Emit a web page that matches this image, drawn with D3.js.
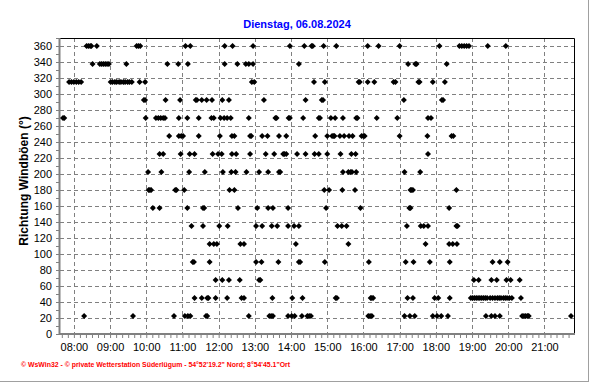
<!DOCTYPE html>
<html>
<head>
<meta charset="utf-8">
<script src="https://cdn.jsdelivr.net/npm/d3@7"></script>
<style>
  body { margin: 0; background: #fff; }
  svg { display: block; font-family: Arial, "Liberation Sans", sans-serif; }
</style>
</head>
<body>
<div id="chart"></div>
<script>
// gust directions (16 compass sectors) and the times they were logged
const directions = [360, 337.5, 315, 292.5, 270, 247.5, 225, 202.5, 180, 157.5, 135, 112.5, 90, 67.5, 45, 22.5];

const dir360 = ["08:21","08:24","08:27","08:29","08:38","09:44","09:47","09:50","11:05","11:13","12:10","12:23","12:57","13:58","14:22","14:34","14:36","14:54","15:15","16:07","16:25","17:00","18:06","18:39","18:43","18:47","18:51","18:55","19:26","19:56"];
const dir337 = ["08:31","08:43","08:46","08:49","08:52","08:55","08:58","09:27","10:35","10:53","11:09","12:10","12:31","12:45","12:50","12:57","14:13","17:14","17:26","17:28","18:18"];
const dir315 = ["07:52","07:56","08:00","08:04","08:08","08:12","09:01","09:04","09:08","09:11","09:15","09:18","09:22","09:25","09:29","09:32","09:36","09:49","09:58","12:55","12:59","14:38","14:56","15:52","15:54","16:07","16:18","16:50","16:53","17:31","17:33","17:55","18:15"];
const dir292 = ["09:56","09:58","10:32","10:56","11:22","11:24","11:32","11:40","11:49","12:06","12:17","13:15","14:24","14:51","14:53","17:07","18:10","18:12"];
const dir270 = ["07:42","07:44","09:59","10:16","10:20","10:24","10:28","10:31","10:54","11:08","11:27","11:48","11:52","12:03","12:09","12:14","12:20","12:50","13:34","13:36","13:56","13:58","14:20","14:46","14:48","15:06","15:13","15:26","15:48","15:50","16:22","16:56","17:47","17:52"];
const dir247 = ["10:38","10:54","10:58","11:01","11:27","12:02","12:22","12:26","12:52","12:54","13:12","13:21","13:40","13:52","14:40","15:00","15:08","15:10","15:12","15:21","15:28","15:36","15:42","15:57","16:00","16:02","17:00","17:46","18:26","18:29"];
const dir225 = ["10:22","10:28","10:57","11:12","11:20","11:50","11:59","12:05","12:22","12:29","12:52","13:18","13:32","13:47","13:49","13:52","14:10","14:24","14:39","14:46","15:00","15:22","15:40","15:47","17:47"];
const dir202 = ["10:03","10:25","11:11","11:37","12:07","12:21","12:28","12:46","13:07","13:22","13:40","13:42","15:26","15:35","15:39","15:41","15:48","17:08","17:34"];
const dir180 = ["10:04","10:06","10:08","10:48","10:50","11:03","12:18","12:26","14:55","15:03","15:25","15:46","17:18","17:20","17:22","18:34"];
const dir157 = ["10:11","10:22","11:08","11:34","11:36","12:32","13:04","13:22","13:30","13:55","14:58","15:55","17:16","17:18","18:22"];
const dir135 = ["11:15","11:34","12:01","12:15","13:02","13:12","13:28","13:37","13:55","14:05","14:13","15:17","15:24","15:32","17:12","17:35","17:40","17:47","18:34","18:36"];
const dir112 = ["11:45","11:52","11:57","12:36","12:42","14:08","15:35","17:43","18:22","18:28","18:35"];
const dir90  = ["11:17","11:19","11:45","13:02","13:11","13:39","14:13","14:15","14:56","16:09","17:10","17:23","17:50","18:23","19:34","19:46","19:59"];
const dir67  = ["11:55","12:06","12:17","12:35","13:07","13:09","19:03","19:11","19:32","19:41","19:57","20:04","20:19"];
const dir45  = ["11:20","11:32","11:41","11:43","11:55","12:14","12:38","12:42","13:29","14:02","14:19","15:14","15:16","16:12","16:14","16:16","17:13","17:22","17:58","18:04","18:23","18:58","19:01","19:04","19:07","19:10","19:13","19:16","19:19","19:22","19:25","19:30","19:34","19:38","19:42","19:45","19:48","19:52","19:55","19:58","20:02","20:06","20:21"];
const dir22  = ["08:17","09:38","10:46","11:04","11:09","11:13","11:39","11:41","12:50","13:24","13:27","13:30","13:55","14:01","14:06","14:18","14:27","14:30","14:33","16:08","16:11","16:14","17:08","17:17","17:25","17:55","18:02","18:09","18:20","19:23","19:32","19:38","19:46","20:23","20:26","20:29","20:32","20:34","21:44"];

const hourLabels = ["08:00","09:00","10:00","11:00","12:00","13:00","14:00","15:00","16:00","17:00","18:00","19:00","20:00","21:00"];
const yTicks = d3.range(0, 361, 20);
const timeStart = "07:37";
const timeEnd = "21:49";

const title = "Dienstag, 06.08.2024";
const yTitle = "Richtung Windböen  (°)";
const footer = "© WsWin32  -  © private Wetterstation Süderlügum  -  54°52'19.2\" Nord; 8°54'45.1\"Ort";

const width = 592, height = 384;
const toMin = (s) => { const p = s.split(":"); return +p[0] * 60 + +p[1]; };

const series = [dir360, dir337, dir315, dir292, dir270, dir247, dir225, dir202,
                dir180, dir157, dir135, dir112, dir90, dir67, dir45, dir22];
const points = [];
series.forEach((times, i) => {
  times.forEach((t) => points.push({ t: toMin(t), dir: directions[i] }));
});

const svg = d3.select("#chart").append("svg")
  .attr("width", width)
  .attr("height", height);

const pLeft = 60, pRight = 574, pTop = 38, pBottom = 334;

const x = d3.scaleLinear().domain([toMin(timeStart), toMin(timeEnd)]).range([pLeft, pRight]);
const y = d3.scaleLinear().domain([0, 370]).range([pBottom, pTop]);

// outer frame shadow
svg.append("line").attr("x1", 0).attr("x2", 589).attr("y1", 381.5).attr("y2", 381.5)
  .attr("stroke", "#a0a0a0");
svg.append("line").attr("x1", 588.5).attr("x2", 588.5).attr("y1", 0).attr("y2", 382)
  .attr("stroke", "#a0a0a0");

// grid
const grid = svg.append("g").attr("stroke", "#808080").attr("stroke-dasharray", "4,3");
grid.selectAll(".hg").data(yTicks.filter((d) => d > 0)).enter().append("line")
  .attr("x1", pLeft).attr("x2", pRight)
  .attr("y1", (d) => Math.round(y(d)) + 0.5).attr("y2", (d) => Math.round(y(d)) + 0.5);
grid.selectAll(".vg").data(hourLabels).enter().append("line")
  .attr("x1", (d) => Math.round(x(toMin(d))) + 0.5).attr("x2", (d) => Math.round(x(toMin(d))) + 0.5)
  .attr("y1", pTop).attr("y2", pBottom);

// top / right border
svg.append("path")
  .attr("d", `M${pLeft},${pTop + 0.5}H${pRight + 0.5}V${pBottom}`)
  .attr("fill", "none").attr("stroke", "#000");

// x axis: minor ticks every 10 minutes, labels every hour
const minorX = d3.range(Math.ceil(toMin(timeStart) / 10) * 10, toMin(timeEnd) + 1, 10);
const xMinor = svg.append("g").attr("transform", `translate(0,${pBottom})`)
  .call(d3.axisBottom(x).tickValues(minorX).tickSize(4).tickFormat(""));
xMinor.select(".domain").remove();
xMinor.selectAll("line").attr("stroke", "#808080");

const xLab = svg.append("g").attr("transform", `translate(0,${pBottom})`)
  .call(d3.axisBottom(x).tickValues(hourLabels.map(toMin)).tickSize(0).tickPadding(9)
    .tickFormat((d, i) => hourLabels[i]));
xLab.select(".domain").remove();
xLab.selectAll("text").attr("font-size", 11).attr("font-family", "Arial, 'Liberation Sans', sans-serif").attr("fill", "#000");

// y axis: minor ticks every 10, labels every 20
const yMinor = svg.append("g").attr("transform", `translate(${pLeft},0)`)
  .call(d3.axisLeft(y).tickValues(d3.range(0, 371, 10)).tickSize(4).tickFormat(""));
yMinor.select(".domain").remove();
yMinor.selectAll("line").attr("stroke", "#808080");

const yLab = svg.append("g").attr("transform", `translate(${pLeft},0)`)
  .call(d3.axisLeft(y).tickValues(yTicks).tickSize(0).tickPadding(8));
yLab.select(".domain").remove();
yLab.selectAll("text").attr("font-size", 11).attr("font-family", "Arial, 'Liberation Sans', sans-serif").attr("fill", "#000");

// thick gray axis lines
svg.append("path")
  .attr("d", `M${pLeft - 0.5},${pTop}V${pBottom}H${pRight + 1}`)
  .attr("fill", "none").attr("stroke", "#808080").attr("stroke-width", 2);

// points
const diamond = {
  draw(ctx, size) {
    const r = Math.sqrt(size / 2);
    ctx.moveTo(0, -r); ctx.lineTo(r, 0); ctx.lineTo(0, r); ctx.lineTo(-r, 0); ctx.closePath();
  }
};
svg.append("g").selectAll("path").data(points).enter().append("path")
  .attr("transform", (d) => `translate(${x(d.t)},${y(d.dir)})`)
  .attr("d", d3.symbol().type(diamond).size(18))
  .attr("fill", "#000");

// title
svg.append("text")
  .attr("x", 297).attr("y", 28)
  .attr("text-anchor", "middle")
  .attr("font-size", 11).attr("font-weight", "bold")
  .attr("fill", "#0000ff")
  .text(title);

svg.append("text")
  .attr("transform", `translate(28,${181}) rotate(-90)`)
  .attr("text-anchor", "middle")
  .attr("font-size", 12).attr("font-weight", "bold")
  .attr("fill", "#000")
  .text(yTitle);

svg.append("text")
  .attr("x", 21).attr("y", 367)
  .attr("font-size", 7).attr("font-weight", "bold")
  .attr("fill", "#ff0000")
  .attr("textLength", 269).attr("lengthAdjust", "spacingAndGlyphs")
  .text(footer);
</script>
</body>
</html>
